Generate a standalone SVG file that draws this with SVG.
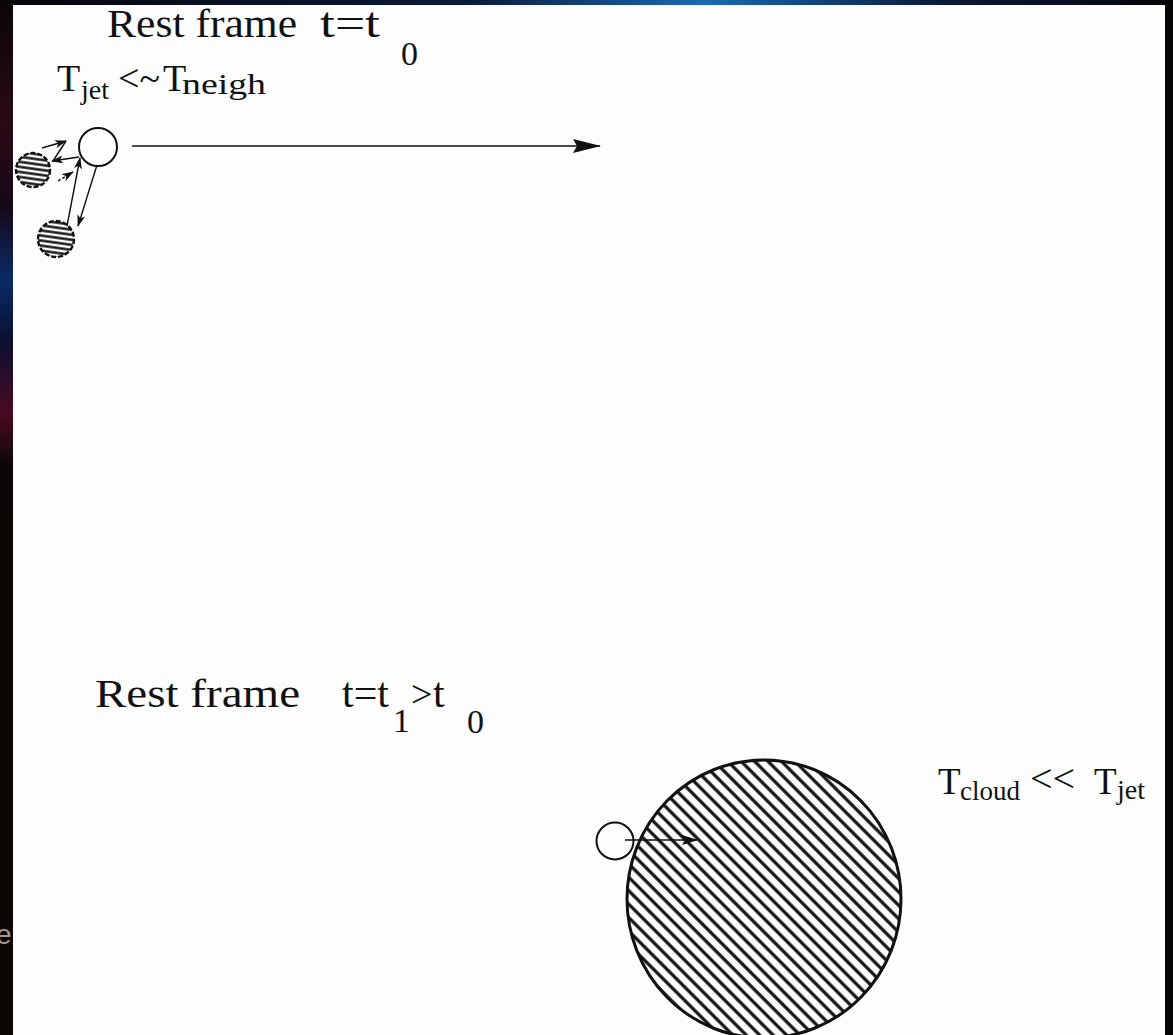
<svg xmlns="http://www.w3.org/2000/svg" width="1173" height="1035" viewBox="0 0 1173 1035">
<style>
.t{font-family:"Liberation Serif","Times New Roman",serif;fill:#111}
.ln{stroke:#111;stroke-width:1.6;fill:none}
.thin{stroke:#111;stroke-width:1.4;fill:none}
</style>
<defs>
<linearGradient id="topg" x1="0" y1="0" x2="1" y2="0">
<stop offset="0" stop-color="#06060a"/><stop offset="0.4" stop-color="#0a1a3a"/><stop offset="0.6" stop-color="#1a6ab4"/><stop offset="0.8" stop-color="#0a1a3a"/><stop offset="1" stop-color="#050508"/>
</linearGradient>
<linearGradient id="leftg" x1="0" y1="0" x2="0" y2="1">
<stop offset="0" stop-color="#0a0608"/><stop offset="0.12" stop-color="#2a0a14"/><stop offset="0.2" stop-color="#150818"/><stop offset="0.27" stop-color="#0a2a66"/><stop offset="0.33" stop-color="#0a1030"/><stop offset="0.4" stop-color="#4a0a20"/><stop offset="0.45" stop-color="#0c0606"/><stop offset="1" stop-color="#0c0604"/>
</linearGradient>
<pattern id="hatchBig" width="9.5" height="9.5" patternUnits="userSpaceOnUse" patternTransform="rotate(-45)">
<line x1="4.75" y1="-1" x2="4.75" y2="10.5" stroke="#111" stroke-width="3.2"/>
</pattern>
<pattern id="hatchSmall" width="5" height="5" patternUnits="userSpaceOnUse" patternTransform="rotate(8)">
<line x1="-1" y1="2.5" x2="6" y2="2.5" stroke="#111" stroke-width="2.4"/>
</pattern>
<marker id="ah" viewBox="0 0 12 8" refX="11" refY="4" markerWidth="12" markerHeight="8" markerUnits="userSpaceOnUse" orient="auto">
<path d="M0,0 L12,4 L0,8 L3,4 z" fill="#111"/>
</marker>
<marker id="ahBig" viewBox="0 0 28 14" refX="27" refY="7" markerWidth="28" markerHeight="14" markerUnits="userSpaceOnUse" orient="auto">
<path d="M0,0 L28,7 L0,14 L4,7 z" fill="#111"/>
</marker>
<marker id="ahMid" viewBox="0 0 16 10" refX="15" refY="5" markerWidth="16" markerHeight="10" markerUnits="userSpaceOnUse" orient="auto">
<path d="M0,0 L16,5 L0,10 L3,5 z" fill="#111"/>
</marker>
</defs>

<g id="background">
<rect x="0" y="0" width="1173" height="1035" fill="#fdfdfd"/>
<rect x="0" y="0" width="1173" height="5" fill="url(#topg)"/>
<rect x="0" y="0" width="13" height="1035" fill="url(#leftg)"/>
<rect x="1165" y="0" width="8" height="1035" fill="#050505"/>
<text x="-4" y="944" font-family="Liberation Sans, Arial, sans-serif" font-size="28" fill="#9a9a9a">e</text>
</g>

<g id="title-t0">
<text class="t" x="107" y="37" font-size="40" textLength="190" lengthAdjust="spacingAndGlyphs">Rest frame</text>
<text class="t" x="320" y="37" font-size="42" textLength="60" lengthAdjust="spacingAndGlyphs">t=t</text>
<text class="t" x="401" y="65" font-size="34">0</text>
</g>

<g id="label-tjet-tneigh">
<text class="t" x="57" y="91" font-size="38">T</text>
<text class="t" x="81" y="99" font-size="28">jet</text>
<text class="t" x="118" y="91" font-size="38">&lt;~</text>
<text class="t" x="163" y="91" font-size="38">T</text>
<text class="t" x="182" y="94" font-size="30" textLength="84" lengthAdjust="spacingAndGlyphs">neigh</text>
</g>

<g id="jet-t0">
<circle cx="98" cy="147" r="19" fill="#fff" stroke="#111" stroke-width="2"/>
</g>
<g id="neighbour-1">
<circle cx="33" cy="170" r="17" fill="url(#hatchSmall)" stroke="#111" stroke-width="2.4" stroke-dasharray="5 2"/>
</g>
<g id="neighbour-2">
<circle cx="56" cy="239" r="18" fill="url(#hatchSmall)" stroke="#111" stroke-width="2.4" stroke-dasharray="5 2"/>
</g>

<g id="title-t1">
<text class="t" x="95" y="707" font-size="40" textLength="205" lengthAdjust="spacingAndGlyphs">Rest frame</text>
<text class="t" x="342" y="707" font-size="42">t=t</text>
<text class="t" x="393" y="732" font-size="34">1</text>
<text class="t" x="411" y="707" font-size="38">&gt;</text>
<text class="t" x="433" y="707" font-size="42">t</text>
<text class="t" x="467" y="733" font-size="34">0</text>
</g>

<g id="cloud">
<ellipse cx="764" cy="899" rx="137" ry="139" fill="url(#hatchBig)" stroke="#111" stroke-width="3"/>
</g>
<g id="jet-t1">
<circle cx="615" cy="841" r="18.5" fill="none" stroke="#111" stroke-width="2"/>
</g>

<g id="label-tcloud-tjet">
<text class="t" x="938" y="794" font-size="37">T</text>
<text class="t" x="960" y="800" font-size="27">cloud</text>
<text class="t" x="1030" y="792" font-size="40">&lt;&lt;</text>
<text class="t" x="1094" y="794" font-size="37">T</text>
<text class="t" x="1117" y="799" font-size="28">jet</text>
</g>

<g id="connectors">
<line class="ln" x1="132" y1="146" x2="600" y2="146" marker-end="url(#ahBig)"/>
<line class="ln" x1="625" y1="840" x2="697" y2="840" marker-end="url(#ahMid)"/>
<line class="thin" x1="42" y1="148" x2="66" y2="141" marker-end="url(#ah)"/>
<line class="thin" x1="66" y1="141" x2="53" y2="161"/>
<line class="thin" x1="79" y1="157" x2="52" y2="161" marker-end="url(#ah)"/>
<line class="thin" x1="58" y1="181" x2="73" y2="172" marker-end="url(#ah)" stroke-dasharray="3 2"/>
<line class="thin" x1="67" y1="226" x2="80" y2="158" marker-end="url(#ah)"/>
<line class="thin" x1="97" y1="165" x2="78" y2="226" marker-end="url(#ah)"/>
</g>
</svg>
